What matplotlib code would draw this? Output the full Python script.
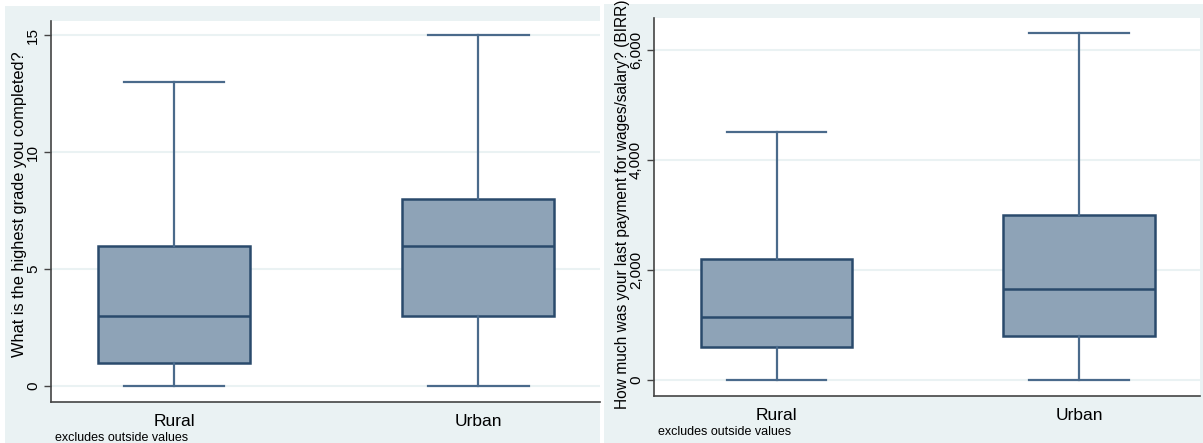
import matplotlib
matplotlib.use("Agg")
import matplotlib.pyplot as plt
from matplotlib.patches import Rectangle
from matplotlib.ticker import FuncFormatter

plt.rcParams['font.family'] = ['Liberation Sans', 'DejaVu Sans']

groups = ["Rural", "Urban"]

# grade completed: lower whisker, q1, median, q3, upper whisker
grade_lo = [0, 0]
grade_q1 = [1, 3]
grade_med = [3, 6]
grade_q3 = [6, 8]
grade_hi = [13, 15]

# last wage payment (BIRR)
wage_lo = [0, 0]
wage_q1 = [600, 800]
wage_med = [1150, 1650]
wage_q3 = [2200, 3000]
wage_hi = [4500, 6300]

bg = "#eaf2f3"
box_fill = "#8ea3b7"
box_edge = "#2a4a6c"
whisk = "#4a6a8b"

W, H = 1203, 443
fig = plt.figure(figsize=(W / 100, H / 100), dpi=100)
fig.patch.set_facecolor("white")


def px_rect(x0, y0, x1, y1):
    return [x0 / W, 1 - y1 / H, (x1 - x0) / W, (y1 - y0) / H]


# panel backgrounds
for (x0, y0, x1, y1) in [(5, 6, 600, 443), (604, 4, 1203, 443)]:
    l, b, w, h = px_rect(x0, y0, x1, y1)
    fig.patches.append(Rectangle((l, b), w, h, transform=fig.transFigure,
                                 facecolor=bg, edgecolor="none", zorder=-10))


def make_stats(lo, q1, med, q3, hi):
    return [dict(whislo=lo[i], q1=q1[i], med=med[i], q3=q3[i], whishi=hi[i],
                 fliers=[], label=groups[i]) for i in range(len(groups))]


def draw(ax, stats, ylim, ticks, fmt, ylabel, lab_size, lab_y, lab_pad):
    ax.set_facecolor("white")
    ax.bxp(stats, positions=[1, 2], widths=0.5, capwidths=0.33,
           showfliers=False, patch_artist=True,
           boxprops=dict(facecolor=box_fill, edgecolor=box_edge, linewidth=1.8),
           medianprops=dict(color=box_edge, linewidth=1.8),
           whiskerprops=dict(color=whisk, linewidth=1.6),
           capprops=dict(color=whisk, linewidth=1.6))
    ax.set_ylim(*ylim)
    ax.set_xlim(0.595, 2.40)
    ax.set_yticks(ticks)
    ax.yaxis.set_major_formatter(FuncFormatter(fmt))
    ax.grid(axis="y", color=bg, linewidth=1.5)
    ax.set_axisbelow(True)
    for s in ["top", "right"]:
        ax.spines[s].set_visible(False)
    for s in ["left", "bottom"]:
        ax.spines[s].set_color("#444444")
        ax.spines[s].set_linewidth(1.2)
    ax.tick_params(axis="y", length=5, width=1, color="#444444", labelsize=11,
                   labelrotation=90, pad=3)
    plt.setp(ax.get_yticklabels(), va="center")
    ax.tick_params(axis="x", length=0, labelsize=12.5, pad=9)
    ax.set_xticks([1, 2])
    ax.set_xticklabels(groups)
    ax.set_ylabel(ylabel, fontsize=lab_size, labelpad=lab_pad)
    ax.yaxis.label.set_y(lab_y)
    ax.text(0.007, -0.095, "excludes outside values", transform=ax.transAxes,
            fontsize=9, va="center", ha="left")


ax1 = fig.add_axes(px_rect(51, 21, 600, 402))
draw(ax1, make_stats(grade_lo, grade_q1, grade_med, grade_q3, grade_hi),
     (-0.68, 15.6), [0, 5, 10, 15], lambda v, p: f"{v:.0f}",
     "What is the highest grade you completed?", 11.8, 0.52, -0.5)

ax2 = fig.add_axes(px_rect(654, 18, 1200, 396))
draw(ax2, make_stats(wage_lo, wage_q1, wage_med, wage_q3, wage_hi),
     (-290, 6580), [0, 2000, 4000, 6000], lambda v, p: f"{v:,.0f}",
     "How much was your last payment for wages/salary? (BIRR)", 11.2, 0.508, -1)

fig.savefig("out.png", dpi=100, facecolor=fig.get_facecolor())
